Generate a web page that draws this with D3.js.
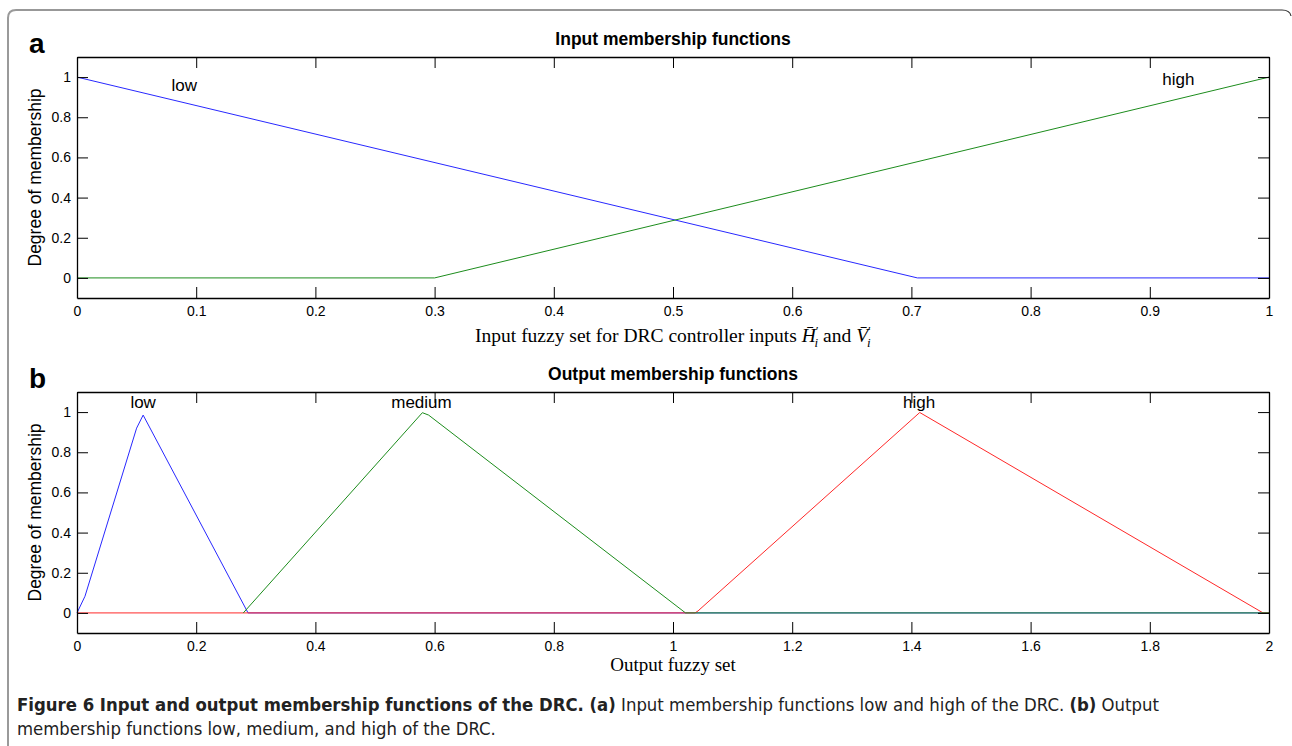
<!DOCTYPE html>
<html>
<head>
<meta charset="utf-8">
<script src="https://cdn.jsdelivr.net/npm/d3@7"></script>
<style>
  body { margin: 0; background: #fff; }
  svg { display: block; }
</style>
</head>
<body>
<div id="chart-area"></div>
<script>
// panel a : input membership functions (x, degree)
const inLow  = [[0, 1], [0.705, 0], [1, 0]]
const inHigh = [[0, 0], [0.3, 0], [1, 1]]
const inLabels = [{text: 'low', x: 0.09, y: 0.93}, {text: 'high', x: 0.924, y: 0.96}]
const inTicksX = [0, 0.1, 0.2, 0.3, 0.4, 0.5, 0.6, 0.7, 0.8, 0.9, 1]

// panel b : output membership functions
const outLow    = [[0, 0], [0.0134, 0.083], [0.1, 0.92], [0.111, 0.985], [0.287, 0], [2, 0]]
const outMedium = [[0.279, 0], [0.5795, 0.997], [0.59, 0.985], [1.021, 0], [2, 0]]
const outHigh   = [[0, 0], [1.037, 0], [1.042, 0.01], [1.414, 0.998], [1.99, 0], [2, 0]]
const outLabels = [{text: 'low', x: 0.111, y: 1.02}, {text: 'medium', x: 0.578, y: 1.02}, {text: 'high', x: 1.413, y: 1.02}]
const outTicksX = [0, 0.2, 0.4, 0.6, 0.8, 1, 1.2, 1.4, 1.6, 1.8, 2]

const ticksY = [0, 0.2, 0.4, 0.6, 0.8, 1]

const W = 1292, H = 746
const sans = '"Liberation Sans", Arial, sans-serif'
const svg = d3.select('#chart-area').append('svg')
  .attr('width', W)
  .attr('height', H)

// figure frame
svg.append('path')
  .attr('d', 'M8,760 L8,18 Q8,10 16,10')
  .attr('fill', 'none').attr('stroke', '#9a9a9a').attr('stroke-width', 2)
svg.append('path')
  .attr('d', 'M16,10 L1282,10 Q1290,10 1291,16')
  .attr('fill', 'none').attr('stroke', '#333').attr('stroke-width', 1.2)

const left = 77, right = 1269

function panel(opts) {
  const x = d3.scaleLinear().domain(opts.xDomain).range([left, right])
  const y = d3.scaleLinear().domain([-0.1, 1.1]).range([opts.bottom, opts.top])
  const g = svg.append('g')

  // series
  const line = d3.line().x(d => x(d[0])).y(d => y(d[1]))
  opts.series.forEach(s => {
    g.append('path')
      .attr('d', line(s.data))
      .attr('fill', 'none')
      .attr('stroke', s.color)
      .attr('stroke-width', 1)
  })

  // axes with inward ticks on all sides
  const fmt = d => String(+d.toFixed(2))
  g.append('g').attr('transform', `translate(0,${opts.bottom})`)
    .call(d3.axisBottom(x).tickValues(opts.ticksX).tickFormat(fmt).tickSizeInner(-11).tickSizeOuter(0).tickPadding(8))
  g.append('g').attr('transform', `translate(0,${opts.top})`)
    .call(d3.axisTop(x).tickValues(opts.ticksX).tickFormat('').tickSizeInner(-11).tickSizeOuter(0))
  g.append('g').attr('transform', `translate(${left},0)`)
    .call(d3.axisLeft(y).tickValues(ticksY).tickFormat(fmt).tickSizeInner(-11).tickSizeOuter(0).tickPadding(6))
  g.append('g').attr('transform', `translate(${right},0)`)
    .call(d3.axisRight(y).tickValues(ticksY).tickFormat('').tickSizeInner(-11).tickSizeOuter(0))
  g.selectAll('.domain').attr('stroke', '#000').attr('stroke-width', 1.3)
  g.selectAll('.tick line').attr('stroke', '#000')
  g.selectAll('.tick text').attr('fill', '#000')
    .style('font-family', sans).style('font-size', '14px')

  // curve labels
  opts.labels.forEach(l => {
    g.append('text')
      .attr('x', x(l.x)).attr('y', y(l.y))
      .attr('text-anchor', 'middle')
      .style('font-family', sans)
      .style('font-size', '17px')
      .text(l.text)
  })

  // title
  g.append('text')
    .attr('x', (left + right) / 2).attr('y', opts.top - 12)
    .attr('text-anchor', 'middle')
    .style('font-family', sans)
    .style('font-size', '17.5px').style('font-weight', 'bold')
    .text(opts.title)

  // y label
  g.append('text')
    .attr('transform', `translate(41,${(opts.top + opts.bottom) / 2}) rotate(-90)`)
    .attr('text-anchor', 'middle')
    .style('font-family', sans)
    .style('font-size', '17.5px')
    .text('Degree of membership')

  // panel letter
  g.append('text')
    .attr('x', 29).attr('y', opts.top - 4)
    .style('font-family', sans)
    .style('font-size', '28px').style('font-weight', 'bold')
    .text(opts.letter)

  return g
}

const ga = panel({
  top: 57, bottom: 298, xDomain: [0, 1], ticksX: inTicksX,
  title: 'Input membership functions', letter: 'a', labels: inLabels,
  series: [{data: inLow, color: '#2828ff'}, {data: inHigh, color: '#1c8c1c'}]
})
const gb = panel({
  top: 392, bottom: 633, xDomain: [0, 2], ticksX: outTicksX,
  title: 'Output membership functions', letter: 'b', labels: outLabels,
  series: [{data: outLow, color: '#2828ff'}, {data: outHigh, color: '#ff2828'}, {data: outMedium, color: '#1c8c1c'}]
})

// x labels (serif, LaTeX-like)
const serif = '"Liberation Serif", "DejaVu Serif", serif'
const xa = ga.append('text')
  .attr('x', (left + right) / 2).attr('y', 342)
  .attr('text-anchor', 'middle')
  .style('font-family', serif).style('font-size', '19.5px')
xa.append('tspan').text('Input fuzzy set for DRC controller inputs ')
xa.append('tspan').style('font-style', 'italic').text('H\u0304')
xa.append('tspan').attr('dy', -7).style('font-size', '13px').text('\u2032')
xa.append('tspan').attr('dx', -4).attr('dy', 12).style('font-size', '13px').style('font-style', 'italic').text('i')
xa.append('tspan').attr('dy', -5).text(' and ')
xa.append('tspan').style('font-style', 'italic').text('V\u0304')
xa.append('tspan').attr('dy', -7).style('font-size', '13px').text('\u2032')
xa.append('tspan').attr('dx', -4).attr('dy', 12).style('font-size', '13px').style('font-style', 'italic').text('i')

gb.append('text')
  .attr('x', (left + right) / 2).attr('y', 671)
  .attr('text-anchor', 'middle')
  .style('font-family', serif).style('font-size', '19px')
  .text('Output fuzzy set')

// caption
const capFont = '"Liberation Sans Narrow", "DejaVu Sans Condensed", "Open Sans", sans-serif'
const cap1 = svg.append('text').attr('x', 17).attr('y', 711)
  .style('font-family', capFont).style('font-size', '17px').attr('fill', '#222')
cap1.append('tspan').style('font-weight', 'bold').text('Figure 6 Input and output membership functions of the DRC. (a)')
cap1.append('tspan').text(' Input membership functions low and high of the DRC. ')
cap1.append('tspan').style('font-weight', 'bold').text('(b)')
cap1.append('tspan').text(' Output')
const cap2 = svg.append('text').attr('x', 17).attr('y', 735)
  .style('font-family', capFont).style('font-size', '17px').attr('fill', '#222')
  .text('membership functions low, medium, and high of the DRC.')

// fit caption width to the reference line length
const w1 = cap1.node().getComputedTextLength()
const fs = 17 * 1143 / w1
cap1.style('font-size', fs + 'px')
cap2.style('font-size', fs + 'px')
</script>
</body>
</html>
